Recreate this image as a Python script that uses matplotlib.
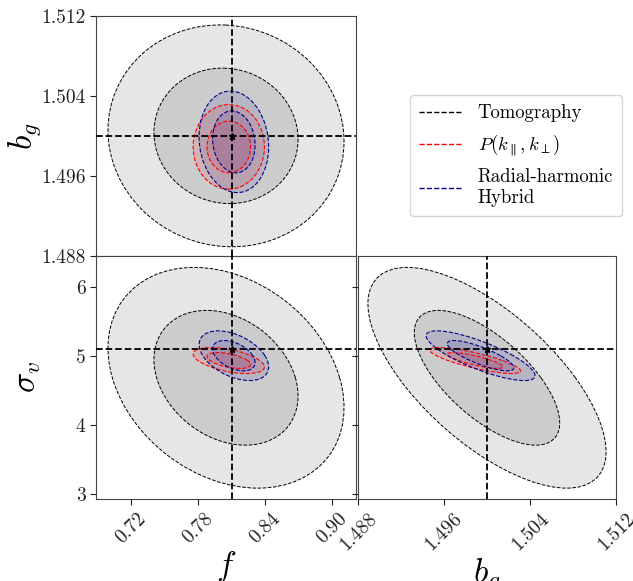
import numpy as np
import matplotlib
matplotlib.use("Agg")
import matplotlib.pyplot as plt
from matplotlib.patches import Ellipse
from matplotlib.lines import Line2D

plt.rcParams['font.family'] = 'serif'
plt.rcParams['font.serif'] = ['cmr10']
plt.rcParams['mathtext.fontset'] = 'cm'
plt.rcParams['axes.formatter.use_mathtext'] = True

# parameter order: f, b_g, sigma_v
param_labels = [r'$f$', r'$b_g$', r'$\sigma_v$']
fiducial = [0.81, 1.5, 5.1]

methods = ['Tomography', r'$P(k_\parallel, k_\perp)$', 'Radial-harmonic\nHybrid']

# forecast means, marginal errors and correlations (f-b, f-sv, b-sv)
tomo_mean = [0.805, 1.500, 4.68]
tomo_sigma = [0.0424, 0.00446, 0.644]
tomo_corr = [-0.05, -0.27, -0.67]

pk_mean = [0.8075, 1.4989, 4.93]
pk_sigma = [0.0128, 0.0017, 0.076]
pk_corr = [0.0, -0.5, -0.8]

hyb_mean = [0.812, 1.4994, 5.0]
hyb_sigma = [0.0125, 0.00204, 0.145]
hyb_corr = [-0.1, -0.45, -0.8]

# delta chi^2 for 68% / 95% in 2 parameters
levels = [2.30, 6.17]

f_ticks = [0.72, 0.78, 0.84, 0.90]
b_ticks = [1.488, 1.496, 1.504, 1.512]
sv_ticks = [3, 4, 5, 6]

f_lim = (0.689, 0.921)
b_lim = (1.488, 1.512)
sv_lim = (2.923, 6.445)


def draw_ellipse(ax, mean, sigma, corr, i, j, k, dchi2, **kw):
    cov = np.array([[sigma[i] ** 2, corr[k] * sigma[i] * sigma[j]],
                    [corr[k] * sigma[i] * sigma[j], sigma[j] ** 2]])
    vals, vecs = np.linalg.eigh(cov)
    angle = np.degrees(np.arctan2(vecs[1, 1], vecs[0, 1]))
    w = 2 * np.sqrt(dchi2 * vals[1])
    h = 2 * np.sqrt(dchi2 * vals[0])
    e = Ellipse((mean[i], mean[j]), w, h, angle=angle, **kw)
    ax.add_patch(e)


def draw_panel(ax, i, j, k):
    # tomography, filled gray
    for lev, fc in zip(levels[::-1], ['#e6e6e6', '#cccccc']):
        draw_ellipse(ax, tomo_mean, tomo_sigma, tomo_corr, i, j, k, lev,
                     facecolor=fc, edgecolor='black', linestyle='--', lw=0.7, zorder=1)
    for mean, sigma, corr, col, z in [(pk_mean, pk_sigma, pk_corr, 'red', 2),
                                      (hyb_mean, hyb_sigma, hyb_corr, 'darkblue', 3)]:
        for lev in levels[::-1]:
            draw_ellipse(ax, mean, sigma, corr, i, j, k, lev,
                         facecolor=col, alpha=0.11, edgecolor='none', zorder=z)
            draw_ellipse(ax, mean, sigma, corr, i, j, k, lev,
                         facecolor='none', edgecolor=col, linestyle='--', lw=0.8, zorder=z + 2)
    ax.axvline(fiducial[i], color='black', ls='--', lw=1.3, zorder=6)
    ax.axhline(fiducial[j], color='black', ls='--', lw=1.3, zorder=6)
    ax.plot(fiducial[i], fiducial[j], marker='*', color='black', ms=5, zorder=7)


fig = plt.figure(figsize=(6.33, 5.81), dpi=100)
W, H = 633.0, 581.0

def add_ax(l, r, t, b):
    return fig.add_axes([l / W, 1 - b / H, (r - l) / W, (b - t) / H])

ax_fb = add_ax(96, 356, 15.7, 256)
ax_fs = add_ax(96, 356, 256, 499)
ax_bs = add_ax(358, 616, 256, 499)

draw_panel(ax_fb, 0, 1, 0)
draw_panel(ax_fs, 0, 2, 1)
draw_panel(ax_bs, 1, 2, 2)

for ax in [ax_fb, ax_fs, ax_bs]:
    for s in ax.spines.values():
        s.set_color('#444444')
    ax.tick_params(colors='#222222', labelsize=14, length=4, width=0.8)

ax_fb.set_xlim(f_lim)
ax_fb.set_ylim(b_lim)
ax_fb.set_xticks(f_ticks)
ax_fb.set_xticklabels([])
ax_fb.tick_params(axis='x', length=0)
ax_fb.set_yticks(b_ticks)
ax_fb.set_yticklabels(['%.3f' % v for v in b_ticks])
ax_fb.set_ylabel(param_labels[1], fontsize=24)
ax_fb.yaxis.set_label_coords(-0.205, 0.5)

ax_fs.set_xlim(f_lim)
ax_fs.set_ylim(sv_lim)
ax_fs.set_xticks(f_ticks)
ax_fs.set_xticklabels(['%.2f' % v for v in f_ticks], rotation=45)
ax_fs.set_yticks(sv_ticks)
ax_fs.set_yticklabels([str(v) for v in sv_ticks])
ax_fs.set_xlabel(param_labels[0], fontsize=24, labelpad=2)
ax_fs.set_ylabel(param_labels[2], fontsize=24)
ax_fs.yaxis.set_label_coords(-0.205, 0.5)

ax_bs.set_xlim(b_lim)
ax_bs.set_ylim(sv_lim)
ax_bs.set_xticks(b_ticks)
ax_bs.set_xticklabels(['%.3f' % v for v in b_ticks], rotation=45)
ax_bs.set_yticks(sv_ticks)
ax_bs.set_yticklabels([])
ax_bs.set_xlabel(param_labels[1], fontsize=24, labelpad=2)

handles = [Line2D([], [], color=c, ls='--', lw=1.0) for c in ['black', 'red', 'darkblue']]
fig.legend(handles, methods, loc='upper left', bbox_to_anchor=(410 / W, 1 - 95 / H),
           borderaxespad=0, fontsize=13.5, frameon=True, handlelength=2.2,
           handletextpad=0.9, borderpad=0.5, labelspacing=0.55)

fig.savefig('out.png', dpi=100)
